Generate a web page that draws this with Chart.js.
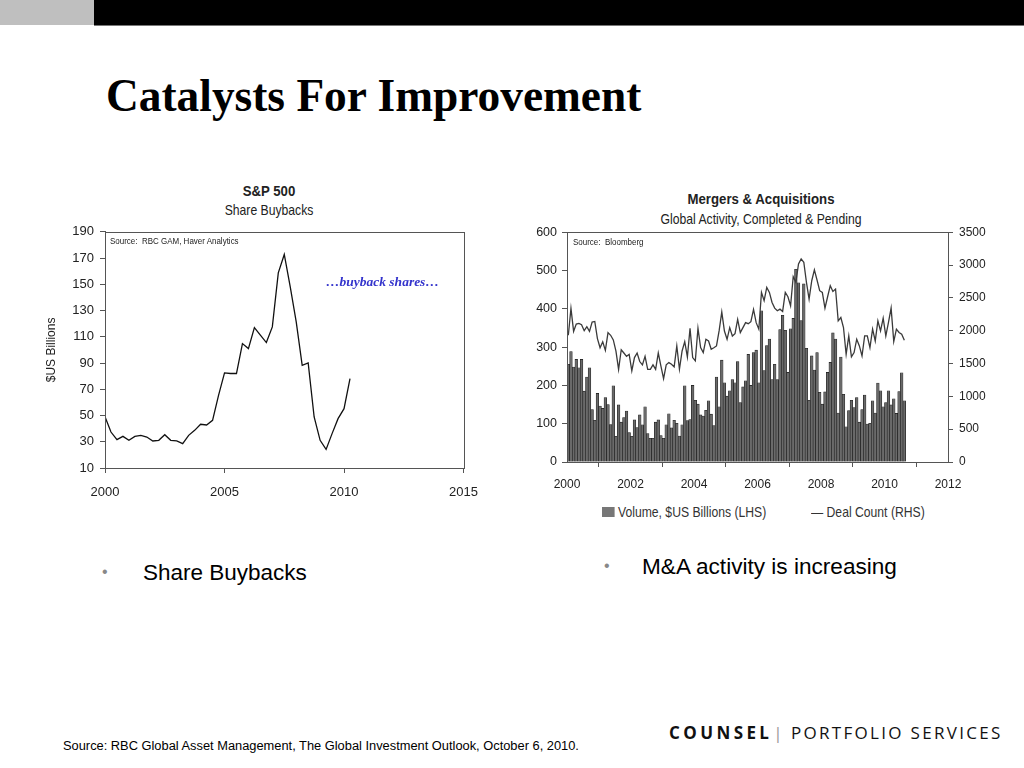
<!DOCTYPE html>
<html lang="en">
<head>
  <meta charset="UTF-8" />
  <title>Catalysts For Improvement</title>
  <script src="https://cdn.jsdelivr.net/npm/chart.js"></script>
  <style>
    body {
      margin: 0;
      width: 1024px;
      height: 768px;
      background: #fff;
      position: relative;
      overflow: hidden;
      font-family: 'Liberation Sans', Arial, sans-serif;
      color: #000;
    }
    .abs { position: absolute; white-space: nowrap; }
    .bar-grey { left: 0; top: 0; width: 94px; height: 25px; background: #bfbfbf; }
    .bar-black { left: 94px; top: 0; width: 930px; height: 25px; background: #000; border-bottom: 1px solid #777; }
    h1 {
      position: absolute; left: 106px; top: 70px; margin: 0;
      font-family: 'Liberation Serif', 'Times New Roman', serif;
      font-weight: 700; font-size: 45.4px; line-height: 52px;
    }
    /* narrow look of the chart lettering */
    .narrow { color: #222; transform-origin: 0 0; transform: scaleX(0.84); }
    .ctitle { font-weight: 700; font-size: 15px; transform-origin: 50% 0; transform: translateX(-50%) scaleX(0.88); }
    .csub { font-size: 14.5px; color: #222; transform-origin: 50% 0; transform: translateX(-50%) scaleX(0.84); }
    .src { font-size: 9.5px; }
    .note {
      font-family: 'Liberation Serif', 'Times New Roman', serif;
      font-style: italic; font-weight: 700; font-size: 13.5px; color: #3333cc;
    }
    canvas { position: absolute; }
    .bullet { font-size: 22.5px; color: #000; }
    .dot { color: #888; font-size: 16px; }
    .legend { font-size: 14.5px; color: #333; }
    .swatch { display: inline-block; width: 15px; height: 10px; background: #777; margin-right: 4px; }
    .footer { font-size: 12.85px; color: #000; }
    .logo { font-family: 'Open Sans', 'Lato', sans-serif; font-size: 17px; letter-spacing: 2.3px; color: #111; }
  </style>
</head>
<body>
  <div class="abs bar-grey"></div>
  <div class="abs bar-black"></div>
  <h1>Catalysts For Improvement</h1>

  <div class="abs ctitle" style="left:269px; top:182px; color:#222;">S&amp;P 500</div>
  <div class="abs csub" style="left:269px; top:202px;">Share Buybacks</div>
  <canvas id="buybackChart" width="450" height="289" style="left:40px; top:218px;"></canvas>
  <div class="abs narrow src" style="left:110px; top:235px;">Source:&nbsp; RBC GAM, Haver Analytics</div>
  <div class="abs note" style="left:326px; top:274px;">&hellip;buyback shares&hellip;</div>

  <div class="abs ctitle" style="left:761px; top:190px; color:#222;">Mergers &amp; Acquisitions</div>
  <div class="abs csub" style="left:761px; top:211px;">Global Activity, Completed &amp; Pending</div>
  <canvas id="maChart" width="473" height="278" style="left:527px; top:219px;"></canvas>
  <div class="abs narrow src" style="left:573px; top:236px;">Source:&nbsp; Bloomberg</div>
  <div class="abs narrow legend" style="left:602px; top:504px;"><span class="swatch"></span>Volume, $US Billions (LHS)</div>
  <div class="abs narrow legend" style="left:811px; top:504px;">&mdash; Deal Count (RHS)</div>

  <div class="abs dot" style="left:102px; top:563px;">&bull;</div>
  <div class="abs bullet" style="left:143px; top:560px;">Share Buybacks</div>
  <div class="abs dot" style="left:604px; top:557px;">&bull;</div>
  <div class="abs bullet" style="left:642px; top:554px; font-size:22.6px;">M&amp;A activity is increasing</div>

  <div class="abs footer" style="left:63px; top:738px;">Source: RBC Global Asset Management, The Global Investment Outlook, October 6, 2010.</div>
  <div class="abs logo" style="left:669px; top:721px;"><b style="letter-spacing:3.4px;">COUNSEL</b><span style="color:#999; margin:0 6px 0 1px;">|</span>PORTFOLIO SERVICES</div>

  <script>
    // S&P 500 share buybacks, quarterly from 2000 Q1, $US billions
    const buybackStart = 2000;
    const buybackValues = [49, 37.4, 31.6, 34.1, 31.1, 34.1, 34.9, 33.6, 30.6, 31.1, 35.4, 31.1,
      30.6, 28.6, 34.9, 38.7, 43.3, 42.8, 46.3, 65.4, 82.5, 82, 82, 104.8,
      101, 117, 111.2, 105.6, 117.5, 158.7, 172.7, 148, 121.4, 88.3, 90.1, 48.9,
      31.1, 24.2, 36.2, 47.6, 55.2, 78.1];
    const buybackTicks = [2000, 2005, 2010, 2015];

    // M&A, monthly from Jan 2000
    const maStart = 2000;
    const maVolume = [
      255, 288, 248, 268, 246, 268, 185, 222, 246, 137, 109, 179,
      146, 140, 168, 150, 98, 199, 67, 149, 104, 116, 133, 77,
      67, 110, 90, 123, 97, 144, 74, 62, 62, 104, 110, 69,
      62, 97, 126, 89, 109, 101, 68, 97, 199, 108, 111, 200,
      161, 151, 123, 120, 135, 160, 125, 95, 222, 144, 266, 207,
      172, 186, 215, 207, 262, 155, 196, 212, 281, 200, 286, 292,
      207, 395, 239, 304, 321, 215, 255, 215, 346, 383, 344, 234,
      348, 375, 503, 468, 369, 465, 297, 161, 277, 240, 286, 182,
      151, 183, 234, 260, 337, 321, 128, 274, 177, 92, 134, 161,
      142, 168, 104, 137, 175, 99, 101, 160, 128, 206, 186, 144,
      155, 186, 149, 165, 127, 184, 233, 160];
    const maDeals = [
      1930, 2340, 1990, 2100, 2110, 2090, 2000, 2060, 1990, 2130, 2140, 1880,
      1740, 1830, 1700, 1970, 1930, 1860, 1690, 1410, 1710, 1660, 1610, 1640,
      1390, 1590, 1660, 1530, 1480, 1610, 1410, 1410, 1480, 1410, 1660, 1460,
      1270, 1480, 1514, 1489, 1448, 1767, 1413, 1691, 1833, 1600, 2036, 1590,
      1540, 2036, 1742, 1666, 1869, 1843, 1717, 1740, 1767, 2000, 2284, 1995,
      1869, 2046, 1919, 1955, 2172, 1970, 2046, 2122, 2107, 2137, 2324, 2122,
      2023, 2583, 2456, 2660, 2583, 2430, 2344, 2303, 2328, 2293, 2583, 2517,
      2379, 2823, 2736, 3016, 3093, 3042, 2736, 2481, 2761, 2925, 2772, 2609,
      2583, 2344, 2517, 2685, 2598, 2634, 2150, 2201, 2048, 1640, 1921, 1600,
      1666, 1870, 1768, 1615, 1921, 1921, 1742, 2023, 1844, 2150, 1997, 2191,
      1921, 2125, 2344, 1834, 2023, 1972, 1946, 1855];
    const maTicks = [2000, 2002, 2004, 2006, 2008, 2010, 2012];

    Chart.defaults.font.family = "'Liberation Sans', Arial, sans-serif";
    Chart.defaults.font.size = 12;
    Chart.defaults.color = '#222';
    Chart.defaults.animation = false;

    // box round the plot area
    const frame = {
      id: 'frame',
      afterDraw(chart, args, opts) {
        const a = chart.chartArea;
        const ctx = chart.ctx;
        ctx.save();
        ctx.strokeStyle = opts.color || '#444';
        ctx.lineWidth = 1;
        ctx.strokeRect(Math.round(a.left) + 0.5, Math.round(a.top) + 0.5,
          Math.round(a.right - a.left), Math.round(a.bottom - a.top));
        ctx.restore();
      }
    };

    const axisGrid = { drawOnChartArea: false, drawTicks: true, tickLength: 5, color: '#555' };
    const axisBorder = { display: true, color: '#555' };

    new Chart(document.getElementById('buybackChart'), {
      type: 'line',
      data: {
        datasets: [{
          label: 'Share Buybacks',
          data: buybackValues.map((v, i) => ({ x: buybackStart + i / 4, y: v })),
          borderColor: '#111',
          borderWidth: 1.3,
          pointRadius: 0,
          tension: 0
        }]
      },
      options: {
        responsive: false,
        layout: { padding: { top: 5, right: 15 } },
        plugins: { legend: { display: false }, tooltip: { enabled: false }, frame: { color: '#555' } },
        scales: {
          x: {
            type: 'linear',
            min: buybackTicks[0],
            max: buybackTicks[buybackTicks.length - 1],
            afterBuildTicks: s => { s.ticks = buybackTicks.map(v => ({ value: v })); },
            afterFit: s => { s.height = 39; },
            ticks: { padding: 12, maxRotation: 0, callback: v => String(v), font: { size: 13 } },
            grid: axisGrid,
            border: axisBorder
          },
          y: {
            min: 10,
            max: 190,
            afterFit: s => { s.width = 65; },
            ticks: { stepSize: 20, padding: 6, font: { size: 13 } },
            title: { display: true, text: '$US Billions', font: { size: 12 }, padding: 4 },
            grid: axisGrid,
            border: axisBorder
          }
        }
      },
      plugins: [frame]
    });

    new Chart(document.getElementById('maChart'), {
      type: 'bar',
      data: {
        datasets: [{
          type: 'line',
          label: 'Deal Count (RHS)',
          data: maDeals.map((v, i) => ({ x: maStart + (i + 0.5) / 12, y: v })),
          yAxisID: 'y1',
          borderColor: '#3a3a3a',
          borderWidth: 1.3,
          pointRadius: 0,
          tension: 0,
          order: 0
        }, {
          label: 'Volume, $US Billions (LHS)',
          data: maVolume.map((v, i) => ({ x: maStart + (i + 0.5) / 12, y: v })),
          yAxisID: 'y',
          backgroundColor: '#6a6a6a',
          borderColor: '#1a1a1a',
          borderWidth: 0.6,
          barPercentage: 1,
          categoryPercentage: 1,
          order: 1
        }]
      },
      options: {
        responsive: false,
        layout: { padding: { top: 6 } },
        plugins: { legend: { display: false }, tooltip: { enabled: false }, frame: { color: '#555' } },
        scales: {
          x: {
            type: 'linear',
            offset: false,
            min: maTicks[0],
            max: maTicks[maTicks.length - 1],
            afterBuildTicks: s => { s.ticks = maTicks.map(v => ({ value: v })); },
            afterFit: s => { s.height = 35; },
            ticks: { padding: 10, maxRotation: 0, callback: v => String(v) },
            grid: axisGrid,
            border: axisBorder
          },
          y: {
            position: 'left',
            min: 0,
            max: 600,
            afterFit: s => { s.width = 40; },
            ticks: { stepSize: 100, padding: 5, font: { size: 12.5 } },
            grid: axisGrid,
            border: axisBorder
          },
          y1: {
            position: 'right',
            min: 0,
            max: 3500,
            afterFit: s => { s.width = 52; },
            ticks: { stepSize: 500, padding: 6, callback: v => String(v) },
            grid: axisGrid,
            border: axisBorder
          }
        }
      },
      plugins: [frame]
    });
  </script>
</body>
</html>
